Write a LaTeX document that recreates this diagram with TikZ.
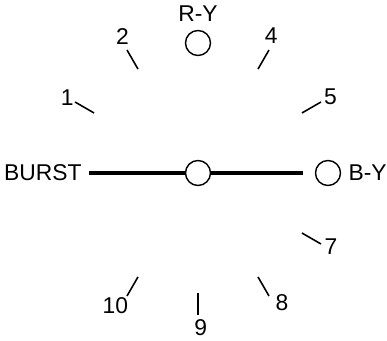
\documentclass[tikz,border=0pt]{standalone}
\usepackage{fontspec}
\setmainfont{Liberation Sans}
\usepackage{tikz}
\usetikzlibrary{positioning}

\begin{document}
\begin{tikzpicture}[
    x=0.02cm, y=0.02cm,
    port/.style={circle, draw, line width=0.8pt, minimum size=0.5cm, inner sep=0pt},
    lbl/.style={inner sep=0pt, font=\fontsize{13}{15}\selectfont},
    tick/.style={line width=0.9pt},
    main/.style={line width=2pt}
  ]
    \useasboundingbox (-198,-168) rectangle (189,173);

    % Phase points
    \node[port] (ctr) at (0,0) {};
    \node[port] (ry) at (0,130) {};
    \node[port] (by) at (130,0) {};
    \node[lbl, above=0.16cm of ry] (rylbl) {R-Y};
    \node[lbl, right=0.14cm of by] (bylbl) {B-Y};
    \node[lbl, anchor=east] (burst) at (-116,0) {BURST};

    % Burst axis
    \draw[main, shorten <=0.14cm] (burst.east) -- (ctr);
    \draw[main, shorten >=0.24cm] (ctr) -- (by);

    % Tick ends
    \coordinate (t1a) at (150:120); \coordinate (t1b) at (150:142);
    \coordinate (t2a) at (120:120); \coordinate (t2b) at (120:142);
    \coordinate (t4a) at (60:120);  \coordinate (t4b) at (60:142);
    \coordinate (t5a) at (30:120);  \coordinate (t5b) at (30:142);
    \coordinate (t7a) at (-30:120); \coordinate (t7b) at (-30:142);
    \coordinate (t8a) at (-60:120); \coordinate (t8b) at (-60:142);
    \coordinate (t9a) at (-90:120); \coordinate (t9b) at (-90:142);
    \coordinate (t10a) at (-120:120); \coordinate (t10b) at (-120:142);

    \draw[tick] (t1a) -- (t1b);
    \draw[tick] (t2a) -- (t2b);
    \draw[tick] (t4a) -- (t4b);
    \draw[tick] (t5a) -- (t5b);
    \draw[tick] (t7a) -- (t7b);
    \draw[tick] (t8a) -- (t8b);
    \draw[tick] (t9a) -- (t9b);
    \draw[tick] (t10a) -- (t10b);

    % Tick numbers
    \node[lbl] (n1) at (150:151) {1};
    \node[lbl] (n2) at (119:156) {2};
    \node[lbl] (n4) at (62:156) {4};
    \node[lbl] (n5) at (30:153) {5};
    \node[lbl] (n7) at (-29:152) {7};
    \node[lbl] (n8) at (-57:154) {8};
    \node[lbl] (n9) at (-89:155) {9};
    \node[lbl] (n10) at (-122:156) {10};
  \end{tikzpicture}
\end{document}
